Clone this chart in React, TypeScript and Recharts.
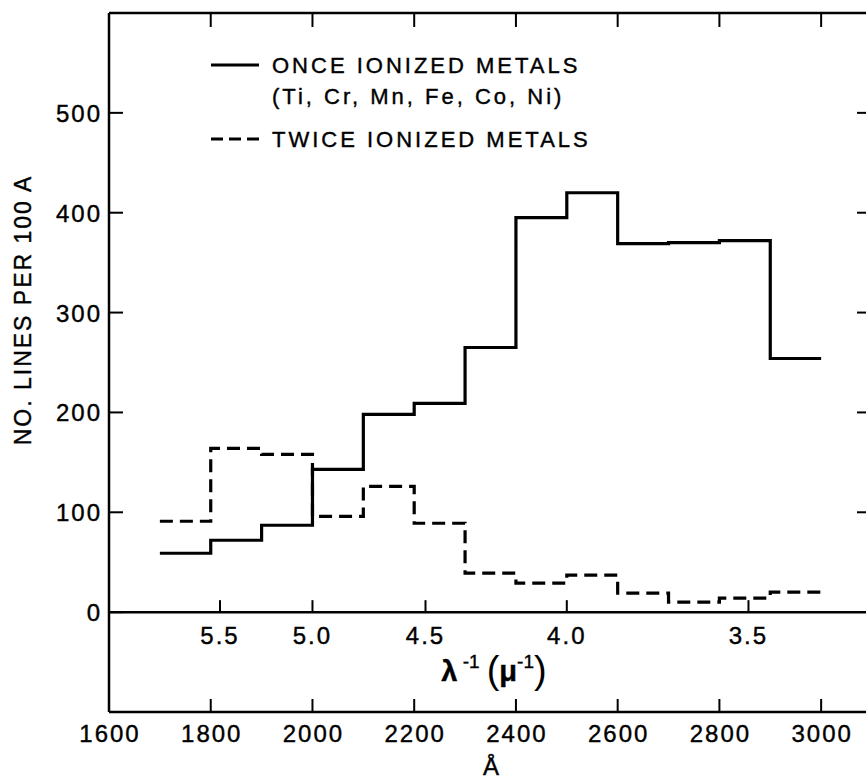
import { LineChart, Line, XAxis, YAxis, ReferenceLine, Customized } from "recharts";

// bins of 100 A, value is the count of lines in the bin
const binStarts = [1700, 1800, 1900, 2000, 2100, 2200, 2300, 2400, 2500, 2600, 2700, 2800, 2900];
const binEnd = 3000;
const onceIonized = [59, 72, 87, 143, 198, 209, 265, 395, 420, 369, 370, 372, 254];
const twiceIonized = [91, 164, 158, 96, 126, 89, 39, 29, 37, 19, 10, 14, 20];

const angstromTicks = [1600, 1800, 2000, 2200, 2400, 2600, 2800, 3000];
const countTicks = [0, 100, 200, 300, 400, 500];
const inverseMicronTicks = [5.5, 5.0, 4.5, 4.0, 3.5];

const xDomain = [1600, 3100];
const yDomain = [-100, 600];

const data = [...binStarts, binEnd].map((x, i) => ({
  x,
  once: onceIonized[Math.min(i, onceIonized.length - 1)],
  twice: twiceIonized[Math.min(i, twiceIonized.length - 1)],
}));

const FONT = '"Liberation Sans", Arial, sans-serif';
const textStyle = {
  fill: "#000",
  stroke: "#000",
  strokeWidth: 0.4,
  fontSize: 24,
  fontFamily: FONT,
  letterSpacing: 2,
};

// plot frame (px)
const W = 880;
const H = 779;
const LEFT = 109;
const TOP = 13;
const BOTTOM = 712;
const RIGHT = 872;
const TICK_LEN = 13;

// inward ticks drawn by hand; only the tick coordinate comes from recharts
const BottomTick = ({ x, payload }: any) => (
  <g>
    <line x1={x} x2={x} y1={BOTTOM} y2={BOTTOM - TICK_LEN} stroke="#000" strokeWidth={2} />
    <text x={x + 1} y={BOTTOM + 30} textAnchor="middle" style={textStyle}>
      {payload.value}
    </text>
  </g>
);
const LeftTick = ({ y, payload }: any) => (
  <g>
    <line x1={LEFT} x2={LEFT + TICK_LEN + 1} y1={y} y2={y} stroke="#000" strokeWidth={2} />
    <text x={LEFT - 7} y={y + 9} textAnchor="end" style={textStyle}>
      {payload.value}
    </text>
  </g>
);
const RightTick = ({ y, payload }: any) =>
  payload.value === 0 ? <g /> : (
    <line x1={RIGHT} x2={RIGHT - TICK_LEN - 2} y1={y} y2={y} stroke="#000" strokeWidth={2} />
  );

const Annotations = () => (
  <g fontFamily={FONT} fill="#000" stroke="#000" strokeWidth={0.4}>
    <line x1={211} x2={259} y1={65} y2={65} stroke="#000" strokeWidth={3} />
    <text x={272} y={73} fontSize={22} letterSpacing={3}>ONCE IONIZED METALS</text>
    <text x={272} y={104} fontSize={22} letterSpacing={3}>(Ti, Cr, Mn, Fe, Co, Ni)</text>
    <line x1={211} x2={259} y1={139} y2={139} stroke="#000" strokeWidth={3} strokeDasharray="12 6" />
    <text x={272} y={147} fontSize={22} letterSpacing={3}>TWICE IONIZED METALS</text>

    <text x={494} y={681} fontSize={29} textAnchor="middle">
      <tspan fontWeight="bold">λ</tspan>
      <tspan fontSize={19} dy={-13}> -1</tspan>
      <tspan fontSize={38} dy={15} dx={7} strokeWidth={0}>(</tspan>
      <tspan fontWeight="bold" dy={-2}>μ</tspan>
      <tspan fontSize={19} dy={-13}>-1</tspan>
      <tspan fontSize={38} dy={15} strokeWidth={0}>)</tspan>
    </text>
    <text x={491} y={775} fontSize={24} textAnchor="middle">Å</text>

    <text
      x={0}
      y={0}
      fontSize={23}
      letterSpacing={2}
      textAnchor="middle"
      transform="translate(31 310) rotate(-90)"
    >
      NO. LINES PER 100 A
    </text>
  </g>
);

export default function App() {
  return (
    <div style={{ position: "absolute", left: 0, top: 0, width: 866, height: 779, overflow: "hidden", background: "#fff" }}>
      <LineChart width={W} height={H} data={data} margin={{ top: TOP, right: 0, bottom: 0, left: 0 }}>
        <XAxis
          xAxisId="a"
          dataKey="x"
          type="number"
          domain={xDomain}
          ticks={angstromTicks}
          interval={0}
          height={H - BOTTOM}
          allowDataOverflow
          axisLine={{ stroke: "#000", strokeWidth: 2.5 }}
          tickLine={false}
          tick={<BottomTick />}
        />
        <YAxis
          yAxisId="left"
          type="number"
          domain={yDomain}
          ticks={countTicks}
          interval={0}
          width={LEFT}
          allowDataOverflow
          axisLine={{ stroke: "#000", strokeWidth: 2.5 }}
          tickLine={false}
          tick={<LeftTick />}
        />
        <YAxis
          yAxisId="right"
          orientation="right"
          type="number"
          domain={yDomain}
          ticks={countTicks}
          interval={0}
          width={W - RIGHT}
          allowDataOverflow
          axisLine={{ stroke: "#000", strokeWidth: 2.5 }}
          tickLine={false}
          tick={<RightTick />}
        />
        {/* top frame with downward ticks */}
        <ReferenceLine xAxisId="a" yAxisId="left" y={yDomain[1]} stroke="#000" strokeWidth={2.5} />
        {angstromTicks.slice(1).map((t) => (
          <ReferenceLine
            key={`top-${t}`}
            xAxisId="a"
            yAxisId="left"
            segment={[
              { x: t, y: yDomain[1] },
              { x: t, y: yDomain[1] - 14 },
            ]}
            stroke="#000"
            strokeWidth={2}
          />
        ))}
        <ReferenceLine xAxisId="a" yAxisId="left" y={0} stroke="#000" strokeWidth={2.5} />
        {inverseMicronTicks.map((v) => (
          <ReferenceLine
            key={v}
            xAxisId="a"
            yAxisId="left"
            segment={[
              { x: 10000 / v, y: 0 },
              { x: 10000 / v, y: 12 },
            ]}
            stroke="#000"
            strokeWidth={2}
            label={{ value: v.toFixed(1), position: "bottom", offset: 15, ...textStyle }}
          />
        ))}
        <Line
          xAxisId="a"
          yAxisId="left"
          type="stepAfter"
          dataKey="once"
          stroke="#000"
          strokeWidth={3.2}
          dot={false}
          isAnimationActive={false}
        />
        <Line
          xAxisId="a"
          yAxisId="left"
          type="stepAfter"
          dataKey="twice"
          stroke="#000"
          strokeWidth={3.2}
          strokeDasharray="13 7"
          dot={false}
          isAnimationActive={false}
        />
        <Customized component={<Annotations />} />
      </LineChart>
    </div>
  );
}
